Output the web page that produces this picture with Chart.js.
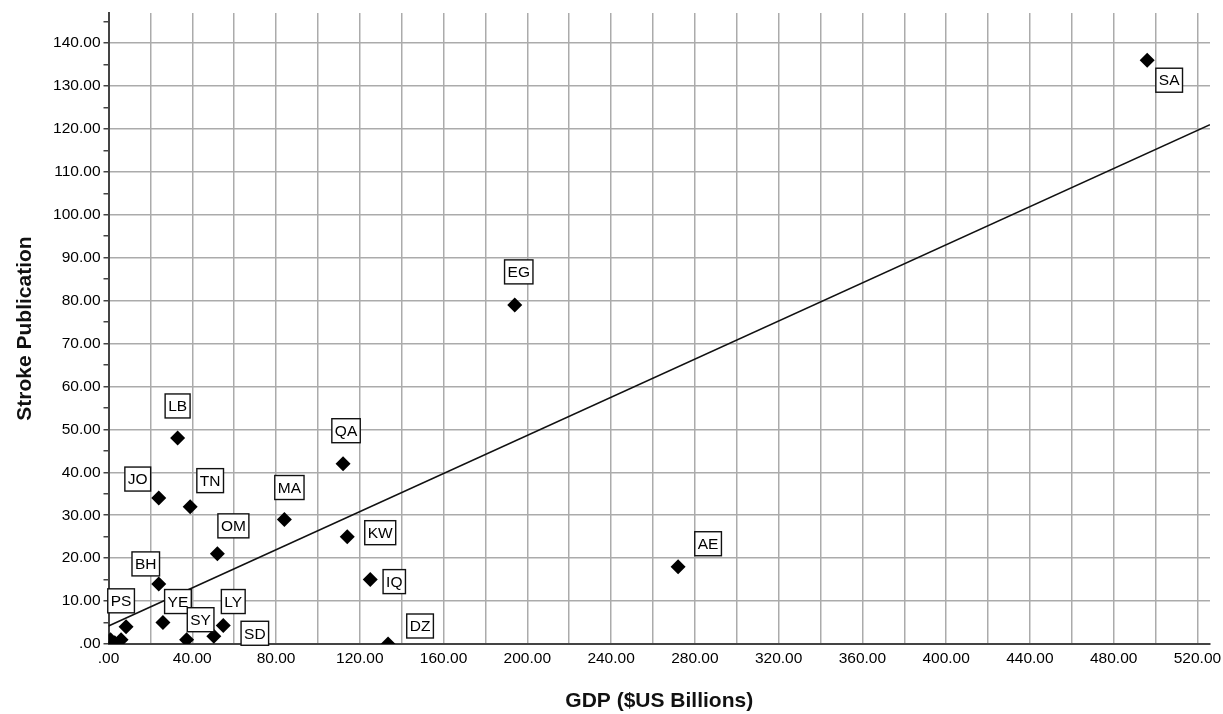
<!DOCTYPE html>
<html>
<head>
<meta charset="utf-8">
<script src="https://cdn.jsdelivr.net/npm/chart.js@4"></script>
<style>
  html, body { margin: 0; padding: 0; background: #fff; }
  #wrap { width: 1223px; height: 714px; }
</style>
</head>
<body>
<div id="wrap"><canvas id="myChart"></canvas></div>
<script>
// country codes ('' = unlabelled point near the origin)
const codes = ['SA', 'EG', 'AE', 'QA', 'KW', 'IQ', 'DZ', 'MA', 'LB', 'JO', 'TN', 'OM', 'BH', 'PS', 'YE', 'SY', 'LY', 'SD', '', '', ''];
const gdp   = [496, 194, 272, 112, 114, 125, 133.5, 84, 33, 24, 39, 52, 24, 8.4, 26, 37.3, 54.8, 50.3, 1, 3, 6];
const pubs  = [136, 79, 18, 42, 25, 15, 0, 29, 48, 34, 32, 21, 14, 4, 5, 1, 4.3, 1.8, 1, 0.3, 1];

// fit line, read at both ends of the x axis
const fitX = [0, 526];
const fitY = [4.2, 121];

// where each label box sits relative to its point (px)
const labelOffset = {
    SA: [22, 20], EG: [4, -33], AE: [30, -23], QA: [3, -33], KW: [33, -4],
    IQ: [24, 2], DZ: [32, -18], MA: [5, -32], LB: [0, -32], JO: [-21, -19],
    TN: [20, -26], OM: [16, -28], BH: [-13, -20], PS: [-5, -26], YE: [15, -21],
    SY: [14, -20], LY: [10, -24], SD: [41, -3]
};

const tickFont = { family: 'Arial, "Liberation Sans", sans-serif', size: 15.5 };
const titleFont = { family: 'Arial, "Liberation Sans", sans-serif', size: 21, weight: 'bold' };
const gridGray = '#ababab';
const axisGray = '#444';

const labelBoxes = {
    id: 'labelBoxes',
    afterDatasetsDraw(chart) {
        const ctx = chart.ctx;
        const meta = chart.getDatasetMeta(1);
        ctx.save();
        ctx.font = '15.5px Arial, "Liberation Sans", sans-serif';
        ctx.textAlign = 'center';
        ctx.textBaseline = 'middle';
        meta.data.forEach((pt, i) => {
            const code = codes[i];
            if (!code) return;
            const off = labelOffset[code];
            const cx = pt.x + off[0];
            const cy = pt.y + off[1];
            const w = ctx.measureText(code).width + 6;
            const h = 24;
            ctx.fillStyle = '#fff';
            ctx.fillRect(cx - w / 2, cy - h / 2, w, h);
            ctx.strokeStyle = '#111';
            ctx.lineWidth = 1.4;
            ctx.strokeRect(cx - w / 2, cy - h / 2, w, h);
            ctx.fillStyle = '#000';
            ctx.fillText(code, cx, cy + 1);
        });
        ctx.restore();
    }
};

const points = gdp.map((g, i) => ({ x: g, y: pubs[i] }));
const fitLine = fitX.map((x, i) => ({ x: x, y: fitY[i] }));

new Chart(document.getElementById('myChart').getContext('2d'), {
    type: 'scatter',
    data: {
        datasets: [{
            data: fitLine,
            showLine: true,
            borderColor: '#111',
            borderWidth: 1.6,
            pointRadius: 0,
            order: 2
        }, {
            data: points,
            pointStyle: 'rectRot',
            pointRadius: 7.5,
            pointHoverRadius: 7.5,
            backgroundColor: '#000',
            borderWidth: 0,
            order: 1
        }]
    },
    options: {
        responsive: true,
        maintainAspectRatio: false,
        animation: false,
        layout: { padding: { top: 13, right: 13, left: 0, bottom: 0 } },
        plugins: {
            legend: { display: false },
            tooltip: { enabled: false }
        },
        scales: {
            x: {
                type: 'linear',
                min: 0,
                max: 526,
                afterBuildTicks: (scale) => {
                    scale.ticks = scale.ticks.filter(t => t.value % 20 === 0);
                },
                afterFit: (scale) => {
                    scale.height = 70;
                    scale.paddingRight = 0;
                    scale.paddingLeft = 0;
                },
                ticks: {
                    stepSize: 20,
                    includeBounds: false,
                    autoSkip: false,
                    maxRotation: 0,
                    padding: 5,
                    color: '#000',
                    font: tickFont,
                    callback: (v) => v % 40 === 0 ? (v === 0 ? '.00' : v.toFixed(2)) : ''
                },
                grid: { color: gridGray, lineWidth: 1.5, drawTicks: false },
                border: { color: axisGray, width: 2 },
                title: {
                    display: true,
                    text: 'GDP ($US Billions)',
                    color: '#111',
                    font: titleFont,
                    padding: { top: -7, bottom: 0 }
                }
            },
            y: {
                type: 'linear',
                min: 0,
                max: 147,
                afterBuildTicks: (scale) => {
                    scale.ticks = scale.ticks.filter(t => t.value % 5 === 0);
                },
                afterFit: (scale) => { scale.width = 108.5; },
                ticks: {
                    stepSize: 5,
                    includeBounds: false,
                    autoSkip: false,
                    padding: 3,
                    color: '#000',
                    font: tickFont,
                    callback: (v) => v % 10 === 0 ? (v === 0 ? '.00' : v.toFixed(2)) : ''
                },
                grid: {
                    color: (c) => (c.tick && c.tick.value % 10 === 0) ? gridGray : 'rgba(0,0,0,0)',
                    tickColor: axisGray,
                    lineWidth: 1.5,
                    tickLength: 5
                },
                border: { color: axisGray, width: 2 },
                title: {
                    display: true,
                    text: 'Stroke Publication',
                    color: '#111',
                    font: titleFont,
                    padding: { top: 13, bottom: 0 }
                }
            }
        }
    },
    plugins: [labelBoxes]
});
</script>
</body>
</html>
